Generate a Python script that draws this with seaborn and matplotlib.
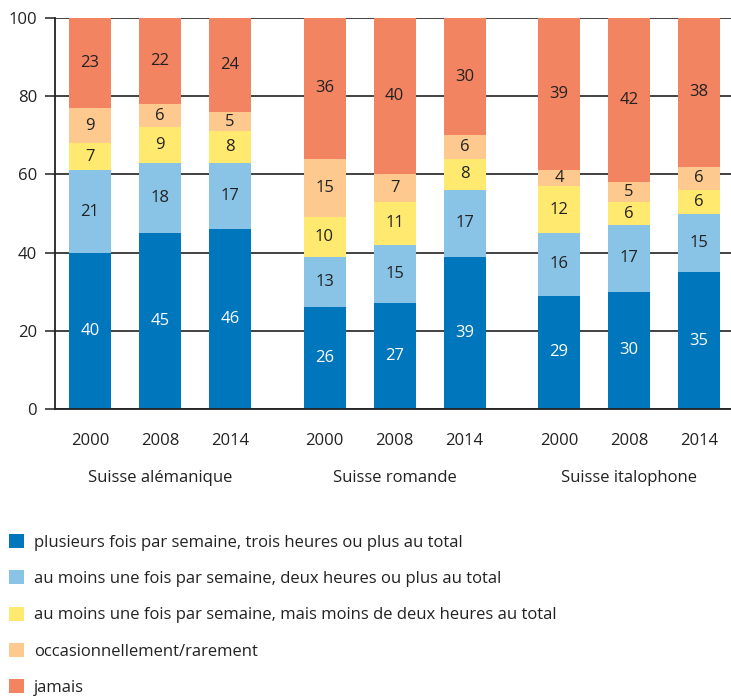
import numpy as np
import pandas as pd
import matplotlib
matplotlib.use("Agg")
import matplotlib.pyplot as plt
from matplotlib.patches import Patch
from matplotlib.ticker import FixedLocator
import seaborn as sns

# data (percent)
regions = ["Suisse alémanique", "Suisse romande", "Suisse italophone"]
years = ["2000", "2008", "2014"]
categories = [
    "plusieurs fois par semaine, trois heures ou plus au total",
    "au moins une fois par semaine, deux heures ou plus au total",
    "au moins une fois par semaine, mais moins de deux heures au total",
    "occasionnellement/rarement",
    "jamais",
]
plusieurs = [40, 45, 46, 26, 27, 39, 29, 30, 35]
deux_heures = [21, 18, 17, 13, 15, 17, 16, 17, 15]
moins_deux = [7, 9, 8, 10, 11, 8, 12, 6, 6]
occasion = [9, 6, 5, 15, 7, 6, 4, 5, 6]
jamais = [23, 22, 24, 36, 40, 30, 39, 42, 38]

colors = ["#0076bd", "#89c3e5", "#ffe96e", "#fdc98e", "#f28462"]
text_colors = ["white", "#222222", "#222222", "#222222", "#222222"]

sns.set_style("white")
plt.rcParams["font.family"] = ["Open Sans", "DejaVu Sans"]
fs = 12

# bar positions: 3 per region, small gap between regions
gap = 0.35
pos = []
for g in range(len(regions)):
    for i in range(len(years)):
        pos.append(g * (len(years) + gap) + i)
pos = np.array(pos)

series = np.array([plusieurs, deux_heures, moins_deux, occasion, jamais], dtype=float)
cum = series.cumsum(axis=0)

fig = plt.figure(figsize=(7.31, 7.0), dpi=100)
ax = fig.add_axes([55 / 731, 1 - 409 / 700, 1 - 55 / 731, (409 - 18) / 700])

# draw cumulative totals from the top layer down so lower layers cover them
for k in range(len(categories) - 1, -1, -1):
    df = pd.DataFrame({"pos": pos, "val": cum[k]})
    sns.barplot(data=df, x="pos", y="val", native_scale=True, width=0.6,
                color=colors[k], saturation=1, errorbar=None, ax=ax,
                linewidth=0)

# value labels at segment centers
for k in range(len(categories)):
    bottoms = cum[k] - series[k]
    for x, b, v in zip(pos, bottoms, series[k]):
        ax.text(x, b + v / 2, f"{int(v)}", ha="center", va="center",
                fontsize=fs, color=text_colors[k])

ax.set_ylim(0, 100)
ax.set_xlim(pos[0] - 0.5, pos[-1] + 0.457)
ax.set_yticks([0, 20, 40, 60, 80, 100])
ax.set_xticks(pos)
ax.set_xticklabels(years * len(regions))
bounds = []
for g in range(len(regions)):
    start = g * (len(years) + gap) - 0.5
    bounds += [start + i for i in range(len(years) + 1)]
ax.xaxis.set_minor_locator(FixedLocator(bounds))
ax.tick_params(axis="x", which="major", length=0, pad=17, labelsize=fs, colors="#222222")
ax.tick_params(axis="x", which="minor", length=6, width=1.2, color="#333333", direction="out")
ax.tick_params(axis="y", length=7, width=1.2, color="#333333", pad=6, labelsize=fs,
               labelcolor="#222222", left=True)
ax.set_xlabel("")
ax.set_ylabel("")

ax.set_axisbelow(True)
ax.yaxis.grid(True, color="#333333", linewidth=1.3)
ax.xaxis.grid(False)
for s in ["top", "right"]:
    ax.spines[s].set_visible(False)
for s in ["left", "bottom"]:
    ax.spines[s].set_color("#222222")
    ax.spines[s].set_linewidth(1.3)

# region labels under the years
for g, name in enumerate(regions):
    center = pos[g * len(years) + 1]
    ax.text(center, -17.7, name, ha="center", va="center", fontsize=fs,
            color="#222222", clip_on=False)

handles = [Patch(facecolor=c, edgecolor="none") for c in colors]
fig.legend(handles, categories, loc="upper left", bbox_to_anchor=(0.012, 0.237),
           frameon=False, fontsize=fs, handlelength=0.9, handleheight=0.9,
           handletextpad=0.6, labelspacing=1.18, borderpad=0, borderaxespad=0,
           labelcolor="#222222")

fig.savefig("out.png", dpi=100)
